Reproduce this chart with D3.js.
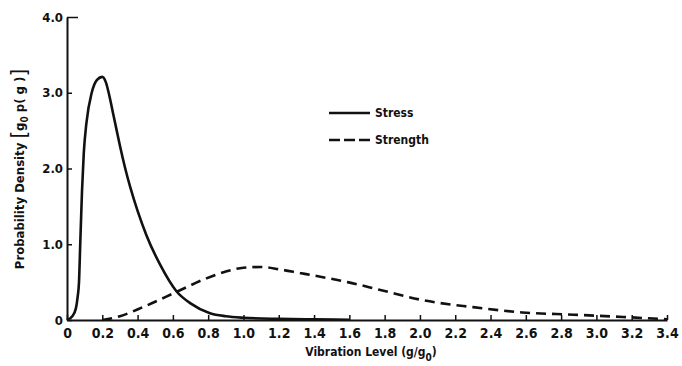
<!DOCTYPE html>
<html>
<head>
<meta charset="utf-8">
<script src="https://cdn.jsdelivr.net/npm/d3@7"></script>
<style>
  html, body { margin: 0; padding: 0; background: #fff; }
  svg { display: block; }
  text { font-family: "DejaVu Sans Condensed", "Liberation Sans Narrow", "DejaVu Sans", sans-serif; font-weight: bold; fill: #111; }
</style>
</head>
<body>
<svg id="chart" width="682" height="366"></svg>
<script>
// Stress density (vibration level, density)
const stressX = [0, 0.03, 0.05, 0.06, 0.068, 0.075, 0.085, 0.095, 0.11, 0.14, 0.17, 0.20, 0.22, 0.24, 0.26, 0.28, 0.30, 0.33, 0.36, 0.40, 0.45, 0.53, 0.62, 0.70, 0.81, 0.90, 1.0, 1.2, 1.4, 1.6];
const stressY = [0, 0.05, 0.15, 0.30, 0.50, 1.0, 1.7, 2.2, 2.6, 3.0, 3.17, 3.21, 3.14, 2.96, 2.74, 2.52, 2.30, 2.00, 1.74, 1.44, 1.12, 0.72, 0.38, 0.22, 0.09, 0.05, 0.03, 0.015, 0.008, 0.004];

// Strength density
const strengthX = [0.2, 0.3, 0.43, 0.62, 0.79, 0.9, 1.0, 1.1, 1.2, 1.32, 1.45, 1.59, 1.77, 2.02, 2.3, 2.58, 2.87, 3.15, 3.4];
const strengthY = [0, 0.05, 0.17, 0.37, 0.55, 0.64, 0.69, 0.70, 0.67, 0.62, 0.565, 0.50, 0.40, 0.26, 0.17, 0.10, 0.07, 0.04, 0.01];

const xTicks = [0, 0.2, 0.4, 0.6, 0.8, 1.0, 1.2, 1.4, 1.6, 1.8, 2.0, 2.2, 2.4, 2.6, 2.8, 3.0, 3.2, 3.4];
const yTicks = [0, 1, 2, 3, 4];
const seriesNames = ["Stress", "Strength"];

const svg = d3.select("#chart");
const x = d3.scaleLinear().domain([0, 3.4]).range([67, 667]);
const y = d3.scaleLinear().domain([0, 4]).range([320, 17]);

// x axis, ticks pointing up into the plot
const xAxis = svg.append("g")
  .attr("transform", `translate(0,${y(0)})`)
  .call(d3.axisBottom(x).tickValues(xTicks).tickSizeInner(-5).tickSizeOuter(0).tickPadding(8)
    .tickFormat(d => d === 0 ? "0" : d3.format(".1f")(d)));
xAxis.select(".domain").attr("stroke", "#111").attr("stroke-width", 2);
xAxis.selectAll(".tick line").attr("stroke", "#111").attr("stroke-width", 1.5);
xAxis.selectAll(".tick text").style("font-size", "14px").attr("fill", "#111");

// y axis, ticks pointing right into the plot
const yAxis = svg.append("g")
  .attr("transform", `translate(${x(0)},0)`)
  .call(d3.axisLeft(y).tickValues(yTicks).tickSizeInner(-5).tickSizeOuter(0).tickPadding(4)
    .tickFormat(d => d === 0 ? "0" : d3.format(".1f")(d)));
yAxis.select(".domain").attr("stroke", "#111").attr("stroke-width", 2);
yAxis.selectAll(".tick line").attr("stroke", "#111").attr("stroke-width", 1.5)
  .attr("x2", d => d === 4 ? 11 : 5);
yAxis.selectAll(".tick text").style("font-size", "13px").attr("fill", "#111");
svg.selectAll("g").attr("font-family", null);

const line = d3.line().x(d => x(d[0])).y(d => y(d[1])).curve(d3.curveMonotoneX);

const stress = stressX.map((v, i) => [v, stressY[i]]);
const strength = strengthX.map((v, i) => [v, strengthY[i]]);

svg.append("path").datum(stress)
  .attr("d", line).attr("fill", "none").attr("stroke", "#111")
  .attr("stroke-width", 2.6).attr("stroke-linejoin", "round");

svg.append("path").datum(strength)
  .attr("d", line).attr("fill", "none").attr("stroke", "#111")
  .attr("stroke-width", 2.6).attr("stroke-dasharray", "10,6");

// legend
const legend = svg.append("g");
const legY = [113, 140];
seriesNames.forEach((name, i) => {
  legend.append("line")
    .attr("x1", 329).attr("x2", 370).attr("y1", legY[i]).attr("y2", legY[i])
    .attr("stroke", "#111").attr("stroke-width", 2.4)
    .attr("stroke-dasharray", i === 1 ? "11,4" : null);
  legend.append("text")
    .attr("x", 375).attr("y", legY[i]).attr("dy", "0.35em")
    .style("font-size", "12px").text(name);
});

// axis titles
const xTitle = svg.append("text")
  .attr("x", 371).attr("y", 356).attr("text-anchor", "middle")
  .style("font-size", "12px");
xTitle.append("tspan").text("Vibration Level  (g/g");
xTitle.append("tspan").attr("dy", 5).style("font-size", "10px").text("0");
xTitle.append("tspan").attr("dy", -5).text(")");

const yTitle = svg.append("text")
  .attr("transform", "translate(24,169) rotate(-90)")
  .attr("text-anchor", "middle")
  .style("font-size", "13px");
yTitle.append("tspan").text("Probability Density ");
yTitle.append("tspan").style("font-size", "22px").style("font-weight", "normal").attr("dy", 2).text("[");
yTitle.append("tspan").attr("dy", -2).text("g");
yTitle.append("tspan").style("font-size", "10px").attr("dy", 4).text("0");
yTitle.append("tspan").attr("dy", -4).text(" p( g )");
yTitle.append("tspan").style("font-size", "22px").style("font-weight", "normal").attr("dy", 2).text("]");
</script>
</body>
</html>
